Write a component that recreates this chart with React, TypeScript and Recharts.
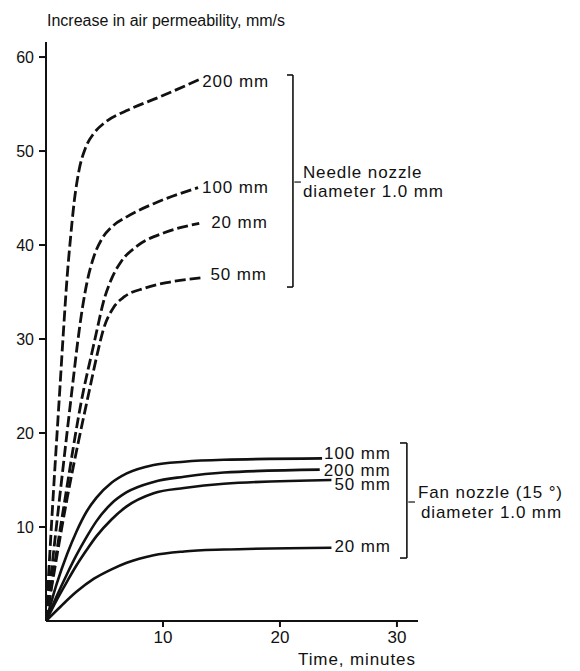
import { Line, LineChart, ReferenceDot, ReferenceLine, XAxis, YAxis } from "recharts";

type Pt = { t: number; v: number };

// Needle nozzle, diameter 1.0 mm — increase in air permeability (mm/s) vs time (min)
const needle200: Pt[] = [
  { t: 0, v: 0 }, { t: 0.6, v: 13 }, { t: 1.2, v: 25 }, { t: 1.5, v: 31 },
  { t: 1.8, v: 36.5 }, { t: 2.1, v: 40.8 }, { t: 2.4, v: 44.5 }, { t: 2.8, v: 47.8 },
  { t: 3.4, v: 50.4 }, { t: 4.1, v: 51.9 }, { t: 5.0, v: 53 }, { t: 6.9, v: 54.3 },
  { t: 9.8, v: 55.8 }, { t: 13.1, v: 57.6 },
];
const needle100: Pt[] = [
  { t: 0, v: 0 }, { t: 1.2, v: 13.5 }, { t: 2.3, v: 25.4 }, { t: 2.7, v: 29.6 },
  { t: 3.1, v: 33.2 }, { t: 3.5, v: 36 }, { t: 4.1, v: 38.8 }, { t: 4.8, v: 40.7 },
  { t: 5.6, v: 41.9 }, { t: 6.9, v: 43 }, { t: 9.2, v: 44.4 }, { t: 13.0, v: 46.1 },
];
const needle20: Pt[] = [
  { t: 0, v: 0 }, { t: 1.5, v: 12 }, { t: 3.2, v: 24.5 }, { t: 3.9, v: 28.4 },
  { t: 4.4, v: 31.2 }, { t: 4.9, v: 33.9 }, { t: 5.6, v: 36.4 }, { t: 6.4, v: 38.2 },
  { t: 7.8, v: 39.9 }, { t: 10.1, v: 41.3 }, { t: 13.1, v: 42.3 },
];
const needle50: Pt[] = [
  { t: 0, v: 0 }, { t: 1.8, v: 13 }, { t: 3.7, v: 24.5 }, { t: 4.4, v: 28.5 },
  { t: 4.9, v: 31 }, { t: 5.8, v: 33.4 }, { t: 6.7, v: 34.5 }, { t: 8.4, v: 35.4 },
  { t: 10.3, v: 36 }, { t: 13.2, v: 36.5 },
];

// Fan nozzle (15°), diameter 1.0 mm
const fan100: Pt[] = [
  { t: 0, v: 0 }, { t: 0.9, v: 3.9 }, { t: 1.8, v: 7.1 }, { t: 2.6, v: 9.5 },
  { t: 3.5, v: 11.7 }, { t: 4.3, v: 13.1 }, { t: 5.6, v: 14.7 }, { t: 6.9, v: 15.7 },
  { t: 9.2, v: 16.6 }, { t: 11.8, v: 16.95 }, { t: 15.2, v: 17.15 }, { t: 23.6, v: 17.3 },
];
const fan200: Pt[] = [
  { t: 0, v: 0 }, { t: 0.9, v: 2.6 }, { t: 1.8, v: 5.0 }, { t: 2.6, v: 7.0 },
  { t: 3.5, v: 9.0 }, { t: 4.3, v: 10.6 }, { t: 5.6, v: 12.5 }, { t: 6.9, v: 13.7 },
  { t: 9.2, v: 14.8 }, { t: 11.8, v: 15.35 }, { t: 15.2, v: 15.8 }, { t: 23.4, v: 16.1 },
];
const fan50: Pt[] = [
  { t: 0, v: 0 }, { t: 0.9, v: 2.2 }, { t: 1.8, v: 4.2 }, { t: 2.6, v: 5.9 },
  { t: 3.5, v: 7.6 }, { t: 4.3, v: 9.0 }, { t: 5.6, v: 10.8 }, { t: 6.9, v: 12.2 },
  { t: 9.2, v: 13.6 }, { t: 11.8, v: 14.15 }, { t: 15.2, v: 14.6 }, { t: 24.4, v: 15 },
];
const fan20: Pt[] = [
  { t: 0, v: 0 }, { t: 1.3, v: 1.6 }, { t: 2.6, v: 3.1 }, { t: 4.1, v: 4.5 },
  { t: 5.6, v: 5.5 }, { t: 6.9, v: 6.2 }, { t: 9.2, v: 7.0 }, { t: 11.8, v: 7.4 },
  { t: 15.2, v: 7.6 }, { t: 24.4, v: 7.8 },
];

const xTicks = [10, 20, 30];
const yTicks = [10, 20, 30, 40, 50, 60];

const INK = "#111";
const FONT = "'Liberation Sans', Arial, Helvetica, sans-serif";
const NOTE = { fontFamily: FONT, fontSize: 17, letterSpacing: 0.9, fill: INK };

const series = [
  { key: "n200", data: needle200, name: "200 mm", dashed: true, dx: 3, dy: 2 },
  { key: "n100", data: needle100, name: "100 mm", dashed: true, dx: 4, dy: 0 },
  { key: "n20", data: needle20, name: "20 mm", dashed: true, dx: 12, dy: -1 },
  { key: "n50", data: needle50, name: "50 mm", dashed: true, dx: 10, dy: -3 },
  { key: "f100", data: fan100, name: "100 mm", dashed: false, dx: 2, dy: -5 },
  { key: "f200", data: fan200, name: "200 mm", dashed: false, dx: 4, dy: 1 },
  { key: "f50", data: fan50, name: "50 mm", dashed: false, dx: 3, dy: 4 },
  { key: "f20", data: fan20, name: "20 mm", dashed: false, dx: 3, dy: -1 },
];

// square brackets grouping the curve labels, with a short tick toward the caption
const brackets = [
  { x0: 20.6, x1: 21.11, top: 58.09, bottom: 35.53, mid: 46.7, tickEnd: 21.79,
    lines: ["Needle nozzle", "diameter 1.0 mm"], textDx: 2, offs: [-10, 9], lineDx: [0, 0] },
  { x0: 30.26, x1: 30.85, top: 18.94, bottom: 6.7, mid: 12.66, tickEnd: 31.54,
    lines: ["Fan nozzle (15 °)", "diameter 1.0 mm"], textDx: 3, offs: [-10, 10], lineDx: [0, 3] },
];

const endLabel = (text: string, count: number, dx: number, dy: number) => (props: any) => {
  if (props.index !== count - 1) return null;
  return (
    <text x={Number(props.x) + dx} y={Number(props.y) + dy} dominantBaseline="central" {...NOTE}>
      {text}
    </text>
  );
};

export default function App() {
  return (
    <div style={{ position: "absolute", left: 0, top: 0, width: 580, height: 671, background: "#fff" }}>
      <LineChart width={580} height={671} margin={{ top: 42, right: 162, bottom: 20, left: 6 }}>
        <XAxis
          type="number"
          dataKey="t"
          domain={[0, 31.8]}
          ticks={xTicks}
          allowDataOverflow
          height={30}
          stroke={INK}
          strokeWidth={2}
          tickSize={6}
          tickMargin={4}
          tick={{ fill: INK, fontSize: 17, fontFamily: FONT }}
        />
        <YAxis
          type="number"
          dataKey="v"
          domain={[0, 61.6]}
          ticks={yTicks}
          allowDataOverflow
          width={40}
          stroke={INK}
          strokeWidth={2}
          tickSize={7}
          tickMargin={5}
          tick={{ fill: INK, fontSize: 16, fontFamily: FONT }}
        />
        {series.map((s) => (
          <Line
            key={s.key}
            data={s.data}
            dataKey="v"
            type="monotone"
            stroke={INK}
            strokeWidth={s.dashed ? 2.8 : 2.6}
            strokeDasharray={s.dashed ? "11 4" : undefined}
            dot={false}
            activeDot={false}
            isAnimationActive={false}
            label={endLabel(s.name, s.data.length, s.dx, s.dy)}
          />
        ))}
        {brackets.flatMap((b, i) => [
          <ReferenceLine key={`bt${i}`} segment={[{ x: b.x0, y: b.top }, { x: b.x1, y: b.top }]} stroke={INK} strokeWidth={1.6} />,
          <ReferenceLine key={`bv${i}`} segment={[{ x: b.x1, y: b.top }, { x: b.x1, y: b.bottom }]} stroke={INK} strokeWidth={1.6} />,
          <ReferenceLine key={`bb${i}`} segment={[{ x: b.x0, y: b.bottom }, { x: b.x1, y: b.bottom }]} stroke={INK} strokeWidth={1.6} />,
          <ReferenceLine key={`bm${i}`} segment={[{ x: b.x1 + 0.12, y: b.mid }, { x: b.tickEnd, y: b.mid }]} stroke={INK} strokeWidth={1.2} />,
          <ReferenceDot
            key={`bl${i}`}
            x={b.tickEnd}
            y={b.mid}
            r={0}
            shape={(p: any) => (
              <g>
                {b.lines.map((ln, j) => (
                  <text
                    key={j}
                    x={Number(p.cx) + b.textDx + b.lineDx[j]}
                    y={Number(p.cy) + b.offs[j]}
                    dominantBaseline="central"
                    {...NOTE}
                  >
                    {ln}
                  </text>
                ))}
              </g>
            )}
          />,
        ])}
      </LineChart>
      <svg width={580} height={671} style={{ position: "absolute", left: 0, top: 0, pointerEvents: "none" }}>
        <text x={47} y={26} fontFamily={FONT} fontSize={16} fill={INK}>
          Increase in air permeability, mm/s
        </text>
        <text x={298} y={665} {...NOTE}>
          Time, minutes
        </text>
      </svg>
    </div>
  );
}
